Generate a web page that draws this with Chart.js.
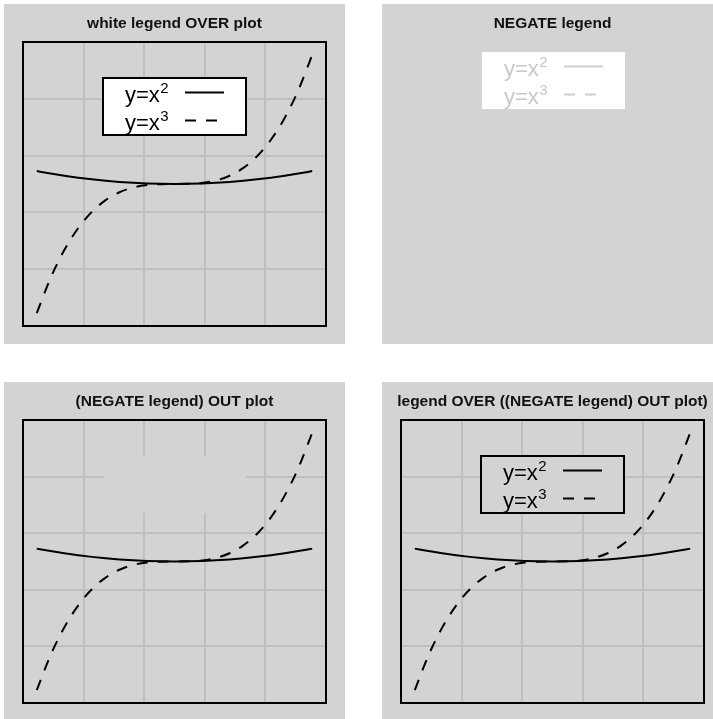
<!DOCTYPE html>
<html>
<head>
<meta charset="utf-8">
<script src="https://cdn.jsdelivr.net/npm/chart.js@4/dist/chart.umd.min.js"></script>
<style>
  body { margin: 0; background: #fff; }
  canvas { position: absolute; background: #d3d3d3; }
</style>
</head>
<body>
<canvas id="c1" width="341" height="340" style="left:4px;top:4px"></canvas>
<canvas id="c2" width="331" height="340" style="left:382px;top:4px"></canvas>
<canvas id="c3" width="341" height="337" style="left:4px;top:382px"></canvas>
<canvas id="c4" width="331" height="337" style="left:382px;top:382px"></canvas>
<script>
// data
const xValues = [-10, -9, -8, -7, -6, -5, -4, -3, -2, -1, 0, 1, 2, 3, 4, 5, 6, 7, 8, 9, 10];
const squareValues = [100, 81, 64, 49, 36, 25, 16, 9, 4, 1, 0, 1, 4, 9, 16, 25, 36, 49, 64, 81, 100];
const cubeValues = [-1000, -729, -512, -343, -216, -125, -64, -27, -8, -1, 0, 1, 8, 27, 64, 125, 216, 343, 512, 729, 1000];
const seriesNames = ["y=x", "y=x"];
const seriesPowers = ["2", "3"];
const xRange = [-11, 11];
const yRange = [-1100, 1100];
const panelTitles = [
  "white legend OVER plot",
  "NEGATE legend",
  "(NEGATE legend) OUT plot",
  "legend OVER ((NEGATE legend) OUT plot)"
];

const FONT = '"Liberation Sans", Arial, Helvetica, sans-serif';

// draws title, legend box and frame round the plot
function decor(opts) {
  return {
    id: "decor",
    beforeDatasetsDraw(chart) {
      if (opts.legend !== "out") return;
      const a = chart.chartArea, ctx = chart.ctx;
      ctx.save();
      ctx.fillStyle = "#d3d3d3";
      ctx.fillRect(a.left + 81, a.top + 36, 142, 57);
      ctx.restore();
    },
    afterDatasetsDraw(chart) {
      if (opts.legend === "out") return;
      const a = chart.chartArea, ctx = chart.ctx;
      const lx = a.left + opts.lx, ly = a.top + opts.ly;
      ctx.save();
      ctx.fillStyle = opts.fill;
      ctx.fillRect(lx, ly, 143, 57);
      if (opts.border) {
        ctx.strokeStyle = "#000";
        ctx.lineWidth = 2;
        ctx.strokeRect(lx, ly, 143, 57);
      }
      chart.data.datasets.forEach((ds, i) => {
        const base = ly + 23.5 + i * 28;
        ctx.fillStyle = opts.text;
        ctx.textBaseline = "alphabetic";
        ctx.textAlign = "left";
        ctx.font = "22px " + FONT;
        ctx.fillText(seriesNames[i], lx + 22, base);
        const w = ctx.measureText(seriesNames[i]).width;
        ctx.font = "15px " + FONT;
        ctx.fillText(seriesPowers[i], lx + 22 + w + 0.5, base - 8.5);
        ctx.strokeStyle = opts.line;
        ctx.lineWidth = 2;
        ctx.setLineDash(ds.borderDash || []);
        ctx.beginPath();
        ctx.moveTo(lx + 82, ly + 14.5 + i * 28);
        ctx.lineTo(lx + 121, ly + 14.5 + i * 28);
        ctx.stroke();
        ctx.setLineDash([]);
      });
      ctx.restore();
    },
    afterDraw(chart) {
      const a = chart.chartArea, ctx = chart.ctx;
      ctx.save();
      if (opts.frame) {
        ctx.strokeStyle = "#000";
        ctx.lineWidth = 2;
        ctx.strokeRect(a.left, a.top, a.right - a.left, a.bottom - a.top);
      }
      ctx.fillStyle = "#111";
      ctx.font = "bold 15.5px " + FONT;
      ctx.textAlign = "center";
      ctx.textBaseline = "middle";
      ctx.fillText(opts.title, (a.left + a.right) / 2, a.top - 18);
      ctx.restore();
    }
  };
}

function makePanel(id, title, padding, opts) {
  const showPlot = opts.frame;
  const data = {
    datasets: [
      {
        label: seriesNames[0] + seriesPowers[0],
        data: xValues.map((x, i) => ({ x: x, y: squareValues[i] })),
        borderColor: "#000",
        borderWidth: 2,
        hidden: !showPlot
      },
      {
        label: seriesNames[1] + seriesPowers[1],
        data: xValues.map((x, i) => ({ x: x, y: cubeValues[i] })),
        borderColor: "#000",
        borderWidth: 2,
        borderDash: [11, 10],
        hidden: !showPlot
      }
    ]
  };
  const grid = { color: "#bfbfbf", lineWidth: 2, drawTicks: false };
  const config = {
    type: "scatter",
    data: data,
    options: {
      responsive: false,
      animation: false,
      showLine: true,
      layout: { padding: padding },
      elements: {
        point: { radius: 0 },
        line: { cubicInterpolationMode: "monotone", fill: false }
      },
      plugins: {
        legend: { display: false },
        tooltip: { enabled: false },
        title: { display: false }
      },
      scales: {
        x: {
          type: "linear",
          display: showPlot,
          min: xRange[0],
          max: xRange[1],
          ticks: { display: false, stepSize: 4.4 },
          grid: grid,
          border: { display: false },
          afterFit: (s) => { s.height = 0; }
        },
        y: {
          type: "linear",
          display: showPlot,
          min: yRange[0],
          max: yRange[1],
          ticks: { display: false, stepSize: 440 },
          grid: grid,
          border: { display: false },
          afterFit: (s) => { s.width = 0; }
        }
      }
    },
    plugins: [decor(Object.assign({ title: title }, opts))]
  };
  return new Chart(document.getElementById(id), config);
}

makePanel("c1", panelTitles[0], { left: 19, right: 19, top: 38, bottom: 18 },
  { frame: true, legend: "over", lx: 80, ly: 36, fill: "#fff", border: true, text: "#000", line: "#000" });
makePanel("c2", panelTitles[1], { left: 19, right: 9, top: 38, bottom: 18 },
  { frame: false, legend: "negate", lx: 81, ly: 10, fill: "#fff", border: false, text: "#c8c8c8", line: "#cfcfcf" });
makePanel("c3", panelTitles[2], { left: 19, right: 19, top: 38, bottom: 16 },
  { frame: true, legend: "out" });
makePanel("c4", panelTitles[3], { left: 19, right: 9, top: 38, bottom: 16 },
  { frame: true, legend: "over", lx: 80, ly: 36, fill: "#d3d3d3", border: true, text: "#000", line: "#000" });
</script>
</body>
</html>
